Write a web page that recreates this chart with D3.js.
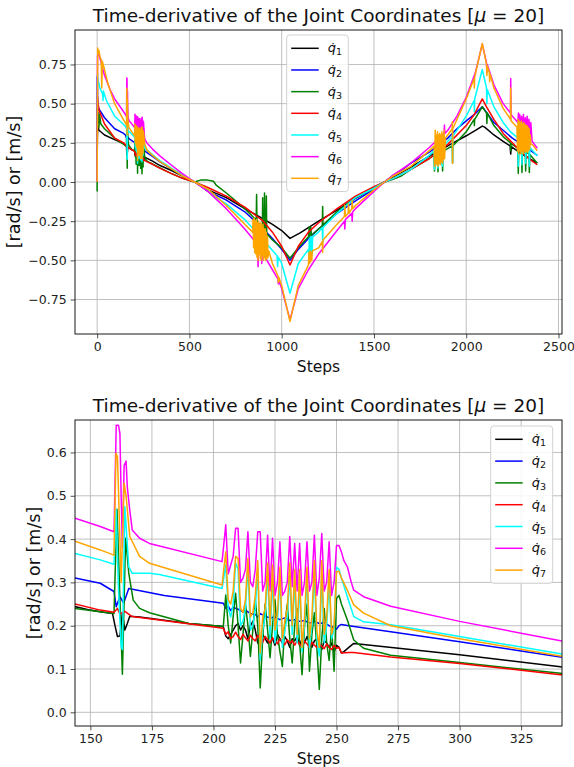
<!DOCTYPE html>
<html><head><meta charset="utf-8">
<script src="https://cdn.jsdelivr.net/npm/d3@7"></script>
<style>
body{margin:0;background:#fff;}
svg{display:block;font-family:"DejaVu Sans",sans-serif;}
</style></head>
<body><svg id="chart" width="574" height="767"></svg>
<script>
// ---------------- data (step, value) ----------------
const seriesNames = ["q1","q2","q3","q4","q5","q6","q7"];
const seriesColors = ["#000000","#0000ff","#008000","#ff0000","#00ffff","#ff00ff","#ffa500"];

const q1 = [[0,0],[1,0.28],[3,0.36],[6,0.35],[10,0.33],[40,0.3],[95,0.27],[143,0.245],
[150,0.236],[154,0.232],[159,0.228],[160,0.2],[161,0.175],[162,0.176],[163,0.229],[164,0.19],[165,0.205],[166,0.222],[170,0.22],[190,0.205],[204,0.198],
[205,0.176],[206,0.17],[207,0.18],[208,0.19],[209,0.2],[210,0.205],[211,0.19],[212,0.2],[213,0.19],[214,0.17],[215,0.2],[216,0.21],[217,0.19],[218,0.16],[219,0.17],[220,0.18],[221,0.17],[222,0.16],[223,0.18],[224,0.17],[225,0.155],[226,0.18],[227,0.17],[228,0.16],[229,0.175],[230,0.165],[231,0.15],[232,0.17],[233,0.165],[234,0.175],[235,0.155],[236,0.17],[237,0.16],[238,0.175],[239,0.16],[240,0.15],[241,0.165],[242,0.17],[243,0.16],[244,0.145],[245,0.165],[246,0.16],[247,0.15],[248,0.16],[249,0.14],[250,0.155],[251,0.15],[252,0.137],[253,0.14],[255,0.15],[257,0.159],[260,0.157],[300,0.133],[341,0.105],
[400,0.075],[460,0.04],[528,0],[600,-0.05],[700,-0.1],[800,-0.17],[900,-0.235],[950,-0.27],[1000,-0.31],[1045,-0.36],[1100,-0.325],[1200,-0.25],[1300,-0.18],[1400,-0.105],[1500,-0.04],[1557,0],
[1600,0.03],[1700,0.095],[1800,0.165],[1900,0.23],[2000,0.295],[2050,0.33],[2087,0.357],[2100,0.35],[2150,0.3],[2200,0.26],[2238,0.23],[2241,0.178],[2244,0.225],[2300,0.18],[2350,0.145],[2385,0.12]];

const q2 = [[0,0],[0.5,0.67],[2,0.55],[4,0.5],[8,0.47],[40,0.41],[95,0.34],[143.75,0.31],
[154,0.298],[159.6,0.279],[160.5,0.244],[162,0.267],[163.5,0.252],[165.6,0.286],[180,0.27],[204,0.252],
[205,0.24],[206,0.245],[207,0.235],[208,0.242],[210,0.238],[212,0.232],[213,0.236],[215,0.228],[217,0.226],[218,0.22],[219,0.228],[221,0.222],[223,0.218],[225,0.22],[227,0.214],[229,0.218],[231,0.212],[233,0.214],[235,0.21],[237,0.212],[239,0.206],[241,0.21],[243,0.205],[245,0.207],[247,0.2],[249,0.196],[250,0.192],[251,0.2],[252,0.203],[255,0.2],[272,0.186],[300,0.163],[341,0.128],
[400,0.085],[460,0.045],[528,0],[560,-0.025],[600,-0.06],[700,-0.115],[800,-0.19],[900,-0.3],[950,-0.36],[1000,-0.43],[1045,-0.5],[1090,-0.43],[1145,-0.36],[1200,-0.3],[1300,-0.2],[1400,-0.12],[1500,-0.045],[1530,-0.02],[1557,0],
[1600,0.04],[1650,0.075],[1700,0.12],[1800,0.19],[1900,0.28],[1950,0.34],[2000,0.39],[2043,0.43],[2087,0.48],[2100,0.46],[2150,0.38],[2200,0.33],[2250,0.28],[2300,0.24],[2350,0.2],[2385,0.17]];

const q3 = [[0,-0.06],[1,0.47],[3,0.45],[6,0.38],[8,0.44],[10,0.35],[13,0.43],[20,0.37],[40,0.34],[95,0.28],[143.75,0.24],
[154,0.232],[159.6,0.228],[160.8,0.469],[161.5,0.35],[163,0.088],[164.3,0.402],[165.6,0.321],[167.4,0.259],[170,0.24],[174,0.23],[190,0.205],[204,0.198],
[205,0.271],[206,0.2],[207,0.16],[208,0.22],[209,0.275],[210,0.2],[211,0.114],[212,0.18],[213,0.25],[214,0.2],[215,0.129],[216,0.19],[217,0.26],[218,0.2],[219,0.056],[220,0.17],[221,0.25],[222,0.19],[223,0.126],[224,0.2],[225,0.26],[226,0.18],[227,0.14],[228,0.106],[229,0.2],[230,0.25],[231,0.17],[232,0.114],[233,0.2],[234,0.24],[235,0.16],[236,0.087],[237,0.2],[238,0.25],[239,0.095],[240,0.18],[241,0.23],[242,0.15],[243,0.053],[244,0.17],[245,0.24],[246,0.16],[247,0.12],[248,0.2],[249,0.095],[250,0.263],[251,0.27],[252,0.25],[254.4,0.213],[257,0.167],[261,0.148],[272,0.132],[300,0.115],[341,0.09],
[400,0.055],[460,0.025],[528,0],[560,0.012],[600,0.012],[630,0.005],[645,-0.02],[700,-0.07],[800,-0.17],[860,-0.24],[862,-0.24],[864,-0.08],[866,-0.25],[880,-0.27],[895,-0.3],[897,-0.1],[899,-0.3],[905,-0.31],[907,-0.07],[909,-0.31],[915,-0.32],[917,-0.09],[919,-0.33],[950,-0.37],[1000,-0.42],[1045,-0.486],[1090,-0.42],[1145,-0.35],[1150,-0.285],[1153,-0.35],[1158,-0.29],[1161,-0.34],[1220,-0.28],[1222,-0.157],[1224,-0.275],[1300,-0.19],[1400,-0.1],[1500,-0.04],[1557,0],
[1600,0.015],[1650,0.04],[1700,0.08],[1800,0.15],[1826,0.17],[1828,0.07],[1832,0.17],[1845,0.18],[1847,0.066],[1850,0.18],[1870,0.2],[1872,0.07],[1875,0.2],[1880,0.2],[1925,0.23],[1926,0.12],[1927,0.23],[2000,0.32],[2043,0.4],[2044,0.36],[2046,0.4],[2087,0.48],[2110,0.44],[2112,0.374],[2114,0.44],[2150,0.36],[2200,0.29],[2240,0.25],[2241,0.2],[2243,0.245],[2275,0.22],[2280,0.21],[2282,0.055],[2285,0.21],[2300,0.2],[2302,0.06],[2305,0.2],[2320,0.19],[2322,0.07],[2325,0.19],[2340,0.18],[2342,0.06],[2345,0.175],[2385,0.12]];

const q4 = [[0,0],[2,0.545],[5,0.5],[10,0.46],[40,0.37],[95,0.28],[143.75,0.25],
[154,0.236],[159.6,0.231],[161,0.24],[162,0.227],[164,0.233],[167,0.221],[204,0.194],
[205,0.18],[206,0.186],[207,0.17],[208,0.175],[209,0.185],[210,0.175],[211,0.168],[212,0.18],[213,0.172],[214,0.165],[215,0.178],[216,0.17],[217,0.165],[218,0.178],[219,0.168],[220,0.162],[221,0.175],[222,0.168],[223,0.16],[224,0.172],[225,0.165],[226,0.158],[227,0.17],[228,0.162],[229,0.156],[230,0.168],[231,0.16],[232,0.165],[233,0.155],[234,0.165],[235,0.158],[236,0.152],[237,0.165],[238,0.158],[239,0.15],[240,0.162],[241,0.155],[242,0.15],[243,0.16],[244,0.152],[245,0.147],[246,0.158],[247,0.15],[248,0.145],[249,0.155],[250,0.148],[251,0.15],[252,0.137],[255,0.138],[257,0.138],[272,0.128],[300,0.113],[341,0.087],
[400,0.055],[460,0.025],[528,0],[600,-0.035],[700,-0.09],[800,-0.16],[900,-0.25],[950,-0.32],[1000,-0.41],[1045,-0.53],[1090,-0.41],[1145,-0.32],[1200,-0.26],[1300,-0.17],[1400,-0.09],[1500,-0.03],[1557,0],
[1600,0.02],[1700,0.08],[1800,0.15],[1900,0.24],[2000,0.36],[2043,0.43],[2087,0.53],[2110,0.48],[2150,0.4],[2200,0.31],[2250,0.25],[2300,0.19],[2350,0.14],[2385,0.11]];

const q5 = [[0,0],[2,0.69],[5,0.65],[15,0.6],[30,0.56],[32,0.52],[34,0.58],[50,0.52],[95,0.42],[143.75,0.367],
[154,0.352],[159.6,0.342],[160.5,0.467],[161.3,0.3],[162.5,0.151],[163,0.145],[164,0.475],[165.6,0.336],[167,0.321],[174,0.321],[178,0.318],[203.5,0.286],
[205,0.34],[206,0.24],[207,0.22],[208,0.25],[209,0.345],[210,0.33],[211,0.2],[212,0.21],[213,0.24],[214,0.335],[215,0.19],[216,0.2],[217,0.24],[218,0.33],[219,0.12],[220,0.19],[221,0.22],[222,0.325],[223,0.17],[224,0.315],[225,0.16],[226,0.21],[227,0.31],[228,0.15],[229,0.19],[230,0.22],[231,0.32],[232,0.18],[233,0.305],[234,0.16],[235,0.3],[236,0.14],[237,0.2],[238,0.31],[239,0.15],[240,0.2],[241,0.32],[242,0.17],[243,0.13],[244,0.32],[245,0.16],[246,0.2],[247,0.3],[248,0.17],[249,0.19],[250,0.335],[251,0.33],[252,0.31],[254.4,0.267],[257,0.221],[261,0.209],[272,0.202],[300,0.175],[341,0.135],
[400,0.09],[460,0.045],[528,0],[560,-0.02],[600,-0.05],[620,-0.08],[700,-0.14],[800,-0.24],[900,-0.37],[930,-0.41],[975,-0.47],[978,-0.54],[981,-0.48],[1000,-0.52],[1045,-0.71],[1090,-0.52],[1145,-0.43],[1147,-0.48],[1150,-0.36],[1153,-0.47],[1156,-0.35],[1159,-0.46],[1162,-0.35],[1165,-0.45],[1168,-0.35],[1200,-0.32],[1220,-0.29],[1222,-0.38],[1224,-0.29],[1300,-0.2],[1400,-0.1],[1500,-0.04],[1557,0],
[1600,0.02],[1700,0.08],[1800,0.17],[1826,0.2],[1828,0.08],[1832,0.2],[1847,0.09],[1850,0.21],[1872,0.1],[1875,0.23],[1900,0.26],[1925,0.29],[1926,0.13],[1927,0.29],[2000,0.42],[2043,0.52],[2044,0.45],[2046,0.53],[2087,0.718],[2110,0.6],[2112,0.5],[2114,0.59],[2150,0.48],[2200,0.38],[2240,0.32],[2250,0.31],[2280,0.28],[2282,0.1],[2285,0.28],[2300,0.26],[2302,0.11],[2305,0.26],[2320,0.24],[2322,0.12],[2325,0.24],[2340,0.22],[2342,0.1],[2345,0.22],[2385,0.166]];

const q6 = [[0,0],[2,0.8],[5,0.83],[8,0.82],[20,0.77],[40,0.68],[70,0.59],[95,0.53],[143.75,0.448],
[154,0.429],[159.6,0.417],[160.5,0.663],[161.4,0.663],[162,0.644],[162.5,0.5],[163,0.38],[163.7,0.57],[164.5,0.58],[165,0.52],[166,0.467],[167,0.421],[170,0.402],[174,0.39],[203.5,0.348],
[205,0.433],[206,0.32],[207,0.34],[208,0.36],[209,0.425],[210,0.425],[211,0.3],[212,0.31],[213,0.33],[214,0.417],[215,0.3],[216,0.29],[217,0.33],[218,0.417],[219,0.417],[220,0.28],[221,0.3],[222,0.409],[223,0.28],[224,0.402],[225,0.27],[226,0.3],[227,0.394],[228,0.27],[229,0.28],[230,0.3],[231,0.406],[232,0.29],[233,0.39],[234,0.28],[235,0.39],[236,0.27],[237,0.3],[238,0.394],[239,0.28],[240,0.3],[241,0.409],[242,0.27],[243,0.31],[244,0.413],[245,0.28],[246,0.3],[247,0.394],[248,0.27],[249,0.3],[250,0.385],[251,0.385],[252,0.37],[253,0.35],[254.4,0.336],[256,0.3],[257,0.282],[261,0.267],[272,0.245],[300,0.21],[341,0.165],
[400,0.11],[460,0.055],[528,0],[600,-0.06],[700,-0.17],[800,-0.3],[870,-0.4],[872,-0.54],[875,-0.42],[890,-0.45],[892,-0.52],[895,-0.45],[900,-0.46],[950,-0.56],[980,-0.62],[982,-0.65],[985,-0.63],[1000,-0.68],[1045,-0.88],[1090,-0.68],[1145,-0.56],[1200,-0.46],[1300,-0.31],[1340,-0.25],[1342,-0.3],[1345,-0.24],[1380,-0.2],[1382,-0.25],[1385,-0.19],[1400,-0.17],[1500,-0.06],[1557,0],
[1600,0.04],[1700,0.12],[1800,0.22],[1880,0.31],[1882,0.363],[1884,0.31],[1900,0.33],[1950,0.42],[2000,0.54],[2050,0.7],[2087,0.88],[2110,0.76],[2112,0.7],[2114,0.75],[2150,0.62],[2200,0.5],[2240,0.44],[2241,0.66],[2243,0.43],[2280,0.38],[2283,0.44],[2286,0.36],[2290,0.43],[2295,0.34],[2300,0.42],[2305,0.33],[2310,0.43],[2315,0.33],[2320,0.41],[2325,0.32],[2330,0.42],[2335,0.3],[2340,0.4],[2345,0.28],[2350,0.38],[2357,0.26],[2385,0.215]];

const q7 = [[0,0],[3,0.855],[6,0.82],[10,0.84],[15,0.8],[22,0.78],[25,0.6],[28,0.77],[35,0.74],[60,0.62],[95,0.5],[143.75,0.395],
[154,0.375],[159.6,0.363],[160.4,0.598],[161,0.59],[162,0.4],[162.5,0.3],[163.7,0.529],[164.5,0.5],[166,0.406],[170,0.36],[174,0.344],[203.5,0.294],
[205,0.371],[206,0.26],[207,0.25],[208,0.28],[209,0.36],[210,0.355],[211,0.24],[212,0.23],[213,0.26],[214,0.355],[215,0.22],[216,0.23],[217,0.27],[218,0.35],[219,0.137],[220,0.22],[221,0.24],[222,0.345],[223,0.2],[224,0.34],[225,0.19],[226,0.23],[227,0.335],[228,0.17],[229,0.21],[230,0.24],[231,0.345],[232,0.2],[233,0.33],[234,0.18],[235,0.33],[236,0.15],[237,0.22],[238,0.335],[239,0.17],[240,0.22],[241,0.35],[242,0.19],[243,0.15],[244,0.35],[245,0.18],[246,0.22],[247,0.33],[248,0.18],[249,0.2],[250,0.325],[251,0.325],[252,0.31],[254.4,0.282],[257,0.248],[261,0.229],[272,0.2],[300,0.17],[341,0.13],
[400,0.085],[460,0.04],[528,0],[600,-0.045],[700,-0.15],[800,-0.27],[842,-0.32],[845,-0.24],[848,-0.42],[851,-0.23],[854,-0.45],[857,-0.25],[860,-0.46],[863,-0.24],[866,-0.48],[869,-0.26],[872,-0.5],[875,-0.25],[878,-0.46],[881,-0.27],[884,-0.49],[887,-0.26],[890,-0.5],[893,-0.28],[896,-0.47],[899,-0.27],[902,-0.5],[905,-0.3],[908,-0.48],[911,-0.3],[914,-0.5],[917,-0.32],[920,-0.49],[923,-0.35],[926,-0.48],[930,-0.44],[950,-0.52],[980,-0.6],[982,-0.64],[985,-0.61],[1000,-0.66],[1045,-0.89],[1090,-0.66],[1145,-0.53],[1148,-0.45],[1151,-0.52],[1154,-0.44],[1157,-0.51],[1160,-0.45],[1163,-0.5],[1166,-0.44],[1200,-0.42],[1220,-0.38],[1222,-0.45],[1224,-0.37],[1300,-0.27],[1340,-0.22],[1342,-0.15],[1345,-0.22],[1360,-0.2],[1362,-0.14],[1365,-0.2],[1380,-0.17],[1382,-0.12],[1385,-0.17],[1400,-0.15],[1500,-0.05],[1557,0],
[1600,0.035],[1700,0.1],[1800,0.2],[1826,0.23],[1829,0.1],[1832,0.33],[1835,0.12],[1838,0.3],[1841,0.11],[1844,0.32],[1847,0.1],[1850,0.3],[1853,0.12],[1856,0.31],[1859,0.11],[1862,0.3],[1865,0.13],[1868,0.32],[1871,0.12],[1874,0.3],[1877,0.14],[1880,0.33],[1883,0.15],[1887,0.28],[1900,0.3],[1924,0.34],[1925,0.384],[1926,0.12],[1927,0.34],[1950,0.4],[2000,0.53],[2043,0.66],[2044,0.6],[2046,0.67],[2087,0.884],[2110,0.75],[2112,0.68],[2114,0.74],[2125,0.7],[2127,0.64],[2129,0.69],[2150,0.6],[2200,0.47],[2240,0.4],[2241,0.6],[2243,0.39],[2275,0.35],[2278,0.2],[2281,0.4],[2284,0.18],[2287,0.39],[2290,0.2],[2293,0.38],[2296,0.18],[2299,0.39],[2302,0.2],[2305,0.37],[2308,0.18],[2311,0.38],[2314,0.2],[2317,0.37],[2320,0.19],[2323,0.36],[2326,0.2],[2329,0.36],[2332,0.19],[2335,0.35],[2338,0.2],[2341,0.34],[2344,0.21],[2347,0.3],[2350,0.24],[2357,0.24],[2385,0.2]];

const topXTicks = [0,500,1000,1500,2000,2500];
const topYTicks = [-0.75,-0.5,-0.25,0,0.25,0.5,0.75];
const botXTicks = [150,175,200,225,250,275,300,325];
const botYTicks = [0,0.1,0.2,0.3,0.4,0.5,0.6];
const titleText = "Time-derivative of the Joint Coordinates";
const xLabelText = "Steps";
const yLabelText = "[rad/s] or [m/s]";

// ---------------- drawing ----------------
const allSeries = [q1,q2,q3,q4,q5,q6,q7];
const svg = d3.select("#chart");

function panel(cfg){
  const L=75,R=562,T=cfg.top,B=cfg.bottom;
  const x=d3.scaleLinear().domain(cfg.xDomain).range([L,R]);
  const y=d3.scaleLinear().domain(cfg.yDomain).range([B,T]);
  const g=svg.append("g");
  const cid="clip"+cfg.id;
  g.append("clipPath").attr("id",cid).append("rect").attr("x",L).attr("y",T).attr("width",R-L).attr("height",B-T);
  // grid
  g.append("g").selectAll("line").data(cfg.xTicks).join("line")
    .attr("x1",d=>x(d)).attr("x2",d=>x(d)).attr("y1",T).attr("y2",B)
    .attr("stroke","#b0b0b0").attr("stroke-width",0.8);
  g.append("g").selectAll("line").data(cfg.yTicks).join("line")
    .attr("y1",d=>y(d)).attr("y2",d=>y(d)).attr("x1",L).attr("x2",R)
    .attr("stroke","#b0b0b0").attr("stroke-width",0.8);
  // lines
  const line=d3.line().x(d=>x(d[0])).y(d=>y(d[1]));
  const lg=g.append("g").attr("clip-path",`url(#${cid})`);
  allSeries.forEach((s,i)=>{
    lg.append("path").attr("d",line(s)).attr("fill","none")
      .attr("stroke",seriesColors[i]).attr("stroke-width",1.5)
      .attr("stroke-linejoin","round");
  });
  // frame
  g.append("rect").attr("x",L).attr("y",T).attr("width",R-L).attr("height",B-T)
    .attr("fill","none").attr("stroke","#000").attr("stroke-width",0.9);
  // axes
  const ax=g.append("g").attr("transform",`translate(0,${B})`)
    .call(d3.axisBottom(x).tickValues(cfg.xTicks).tickFormat(d3.format("d")).tickSize(4.4).tickPadding(4));
  const ay=g.append("g").attr("transform",`translate(${L},0)`)
    .call(d3.axisLeft(y).tickValues(cfg.yTicks).tickFormat(d3.format(cfg.yFmt)).tickSize(4.4).tickPadding(4));
  [ax,ay].forEach(a=>{
    a.select(".domain").remove();
    a.selectAll("text").attr("font-family","DejaVu Sans").attr("font-size",12.5).attr("fill","#222");
    a.selectAll("line").attr("stroke","#222").attr("stroke-width",0.8);
  });
  // title
  const t=g.append("text").attr("x",(L+R)/2).attr("y",T-8).attr("text-anchor","middle")
    .attr("font-size",18.5).attr("fill","#111");
  t.append("tspan").text(titleText+" [");
  t.append("tspan").attr("font-style","italic").text("\u03bc");
  t.append("tspan").text(" = 20]");
  // x label
  g.append("text").attr("x",(L+R)/2).attr("y",B+38).attr("text-anchor","middle")
    .attr("font-size",15.5).attr("fill","#111").text(xLabelText);
  // y label
  g.append("text").attr("transform",`translate(${cfg.ylabX},${(T+B)/2}) rotate(-90)`)
    .attr("text-anchor","middle").attr("dominant-baseline","central")
    .attr("font-size",17.5).attr("fill","#111").text(yLabelText);
  // legend
  const lgd=cfg.legend;
  const box=g.append("g");
  box.append("rect").attr("x",lgd.x).attr("y",lgd.y).attr("width",lgd.w).attr("height",lgd.h)
    .attr("rx",3).attr("fill","#fff").attr("fill-opacity",0.85)
    .attr("stroke","#cccccc").attr("stroke-width",0.9);
  seriesNames.forEach((n,i)=>{
    const yy=lgd.y+13.3+i*lgd.dy;
    box.append("line").attr("x1",lgd.x+4.5).attr("x2",lgd.x+32).attr("y1",yy).attr("y2",yy)
      .attr("stroke",seriesColors[i]).attr("stroke-width",1.5);
    const tx=box.append("text").attr("x",lgd.x+41).attr("y",yy+4).attr("font-size",13).attr("fill","#111");
    tx.append("tspan").attr("font-style","italic").text("q\u0307");
    tx.append("tspan").attr("font-size",9.5).attr("dy",3).text(n.slice(1));
  });
}

panel({id:"a",top:30,bottom:334,xDomain:[-120,2519],yDomain:[-0.97,0.97],
  xTicks:topXTicks,yTicks:topYTicks,yFmt:".2f",ylabX:14,
  legend:{x:286.7,y:35,w:61.6,h:156.5,dy:21.67}});
panel({id:"b",top:420,bottom:726,xDomain:[143.75,341.6],yDomain:[-0.0316,0.675],
  xTicks:botXTicks,yTicks:botYTicks,yFmt:".1f",ylabX:34,
  legend:{x:490.7,y:426,w:62,h:157.3,dy:21.8}});
</script></body></html>
